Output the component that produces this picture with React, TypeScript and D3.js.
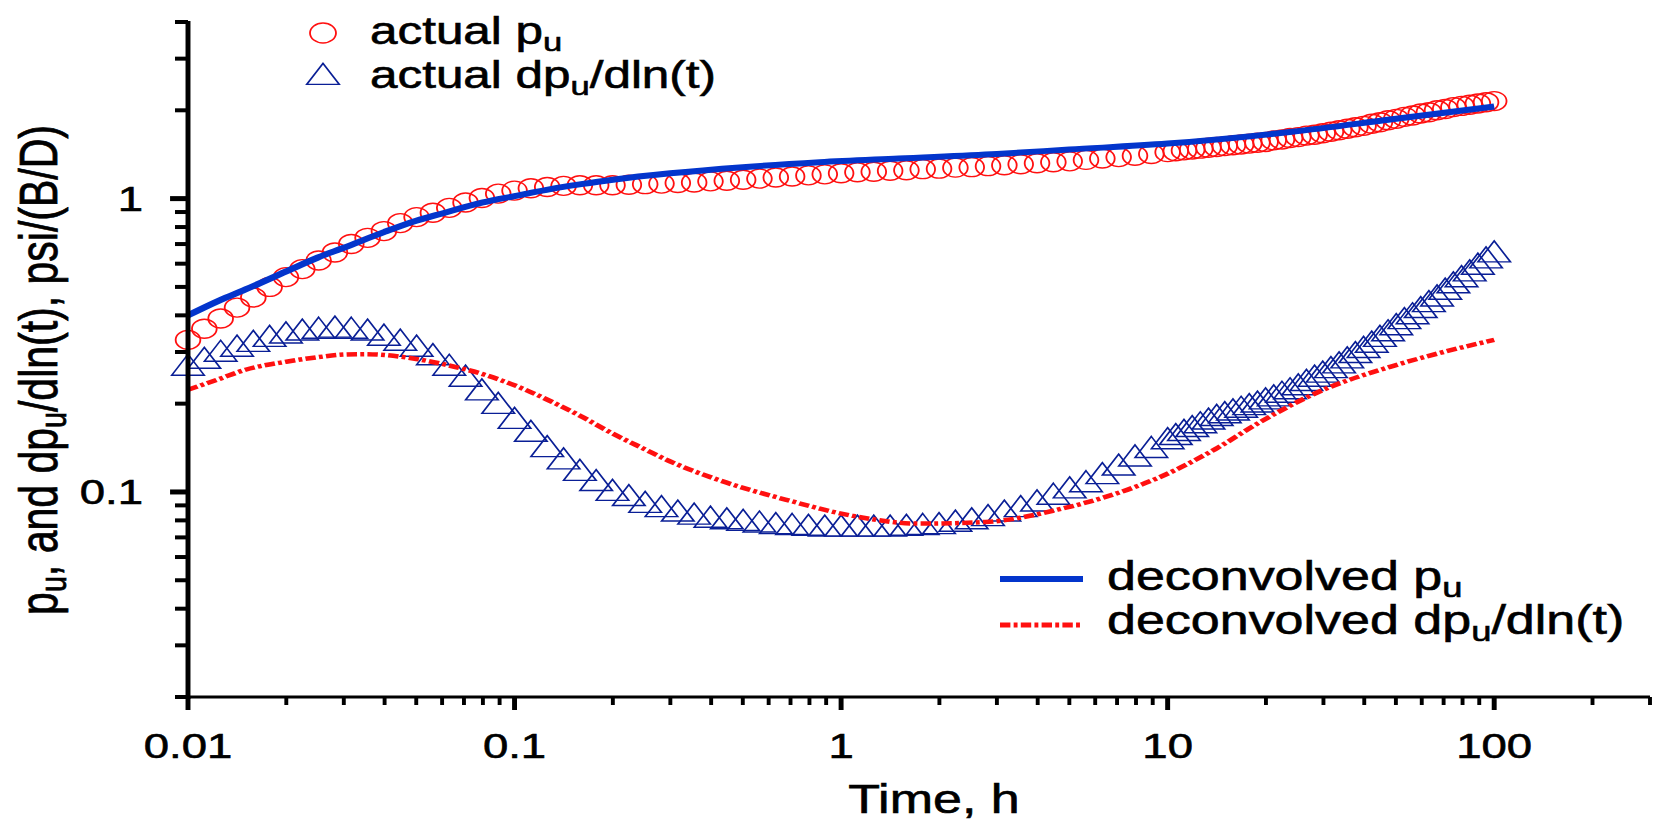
import React from 'react';
import * as d3 from 'd3';

// horizontal stretch of the original figure
const S = 1.3;
const W = 1653;
const H = 824;

// sample times, h (shared by both measured series)
const tActual = [
  0.01, 0.01122, 0.01259, 0.01413, 0.01585, 0.01778, 0.01995, 0.02239, 0.02512, 0.02818,
  0.03162, 0.03548, 0.03981, 0.04467, 0.05012, 0.05623, 0.0631, 0.07079, 0.07943, 0.08913,
  0.1, 0.1122, 0.1259, 0.1413, 0.1585, 0.1778, 0.1995, 0.2239, 0.2512, 0.2818,
  0.3162, 0.3548, 0.3981, 0.4467, 0.5012, 0.5623, 0.631, 0.7079, 0.7943, 0.8913,
  1, 1.122, 1.259, 1.413, 1.585, 1.778, 1.995, 2.239, 2.512, 2.818,
  3.162, 3.548, 3.981, 4.467, 5.012, 5.623, 6.31, 7.079, 7.943, 8.913,
  10, 10.59, 11.22, 11.89, 12.59, 13.34, 14.13, 14.96, 15.85, 16.79,
  17.78, 18.84, 19.95, 21.13, 22.39, 23.71, 25.12, 26.61, 28.18, 29.85,
  31.62, 33.5, 35.48, 37.58, 39.81, 42.17, 44.67, 47.32, 50.12, 53.09,
  56.23, 59.57, 63.1, 66.83, 70.79, 74.99, 79.43, 84.14, 89.13, 94.41, 100,
];

// actual p_u (circles)
const puActual = [
  0.33, 0.36, 0.39, 0.425, 0.46, 0.5, 0.54, 0.575, 0.615, 0.655,
  0.7, 0.735, 0.775, 0.825, 0.865, 0.895, 0.93, 0.97, 1.005, 1.04,
  1.065, 1.085, 1.095, 1.105, 1.11, 1.11, 1.11, 1.115, 1.12, 1.125,
  1.13, 1.135, 1.145, 1.15, 1.16, 1.17, 1.18, 1.19, 1.2, 1.21,
  1.22, 1.23, 1.235, 1.245, 1.25, 1.26, 1.265, 1.275, 1.28, 1.29,
  1.3, 1.31, 1.32, 1.33, 1.34, 1.355, 1.37, 1.385, 1.4, 1.42,
  1.44, 1.45, 1.46, 1.47, 1.48, 1.49, 1.5, 1.51, 1.52, 1.53,
  1.54, 1.55, 1.56, 1.58, 1.59, 1.61, 1.62, 1.64, 1.65, 1.67,
  1.69, 1.71, 1.73, 1.75, 1.77, 1.8, 1.82, 1.85, 1.87, 1.9,
  1.92, 1.95, 1.97, 2.0, 2.02, 2.05, 2.07, 2.09, 2.11, 2.13, 2.15,
];

// actual dp_u/dln(t) (triangles)
const dpuActual = [
  0.267, 0.282, 0.298, 0.31, 0.322, 0.335, 0.344, 0.352, 0.357, 0.36,
  0.357, 0.352, 0.338, 0.325, 0.31, 0.29, 0.267, 0.245, 0.22, 0.198,
  0.176, 0.159, 0.141, 0.128, 0.117, 0.108, 0.1, 0.096, 0.091, 0.088,
  0.085, 0.083, 0.081, 0.08, 0.079, 0.078, 0.077, 0.0765, 0.076, 0.0755,
  0.0755, 0.0755, 0.0755, 0.0755, 0.076, 0.0765, 0.077, 0.0785, 0.08, 0.082,
  0.085, 0.088, 0.092, 0.097, 0.102, 0.107, 0.114, 0.122, 0.131, 0.14,
  0.15, 0.155, 0.16, 0.165, 0.17, 0.175, 0.18, 0.184, 0.188, 0.192,
  0.196, 0.2, 0.205, 0.21, 0.216, 0.222, 0.229, 0.237, 0.245, 0.253,
  0.262, 0.272, 0.283, 0.295, 0.307, 0.32, 0.335, 0.35, 0.367, 0.385,
  0.4, 0.42, 0.44, 0.46, 0.485, 0.51, 0.535, 0.56, 0.59, 0.62, 0.65,
];

// deconvolved p_u (solid blue)
const tDeconvPu = [0.01, 0.0125, 0.015, 0.02, 0.025, 0.03, 0.04, 0.05, 0.06, 0.08, 0.1, 0.13, 0.16, 0.2, 0.3, 0.5, 0.86, 1.5, 3, 5, 10, 24, 48, 100];
const puDeconv = [0.4, 0.45, 0.49, 0.565, 0.63, 0.68, 0.77, 0.84, 0.89, 0.97, 1.02, 1.08, 1.12, 1.16, 1.22, 1.28, 1.33, 1.37, 1.42, 1.47, 1.54, 1.69, 1.86, 2.06];

// deconvolved dp_u/dln(t) (red dash-dot)
const tDeconvDpu = [0.01, 0.0125, 0.015, 0.02, 0.025, 0.03, 0.035, 0.04, 0.05, 0.062, 0.08, 0.1, 0.13, 0.16, 0.2, 0.25, 0.3, 0.42, 0.68, 1.08, 1.73, 2.77, 4.6, 7, 9.4, 14, 19, 30, 48, 70, 100];
const dpuDeconv = [0.223, 0.243, 0.261, 0.278, 0.288, 0.294, 0.295, 0.293, 0.284, 0.271, 0.252, 0.231, 0.203, 0.181, 0.158, 0.14, 0.127, 0.11, 0.094, 0.083, 0.078, 0.079, 0.087, 0.099, 0.112, 0.14, 0.172, 0.223, 0.267, 0.3, 0.33];

const xTickLabels = [0.01, 0.1, 1, 10, 100];
const yTickLabels = [0.1, 1];

const FONT = "'Liberation Sans', Arial, sans-serif";
const RED = '#ff1010';
const NAVY = '#0a1f96';
const BLUE = '#0335cc';

const x = d3.scaleLog().domain([0.01, 300]).range([188 / S, 1650 / S]);
const y = d3.scaleLog().domain([0.02, 4]).range([697, 22]);

const line = d3.line<[number, number]>()
  .x(d => x(d[0]))
  .y(d => y(d[1]))
  .curve(d3.curveMonotoneX);

const tri = (cx: number, cy: number) => {
  const h = 21, w = 25;
  return `M${cx},${cy - h * 0.6}L${cx + w / 2},${cy + h * 0.4}L${cx - w / 2},${cy + h * 0.4}Z`;
};

const Sub = ({ children }: { children: React.ReactNode }) => (
  <tspan fontSize="0.7em" dy={7}>{children}</tspan>
);

export default function App() {
  const isMajor = (v: number) => Math.abs(Math.log10(v) - Math.round(Math.log10(v))) < 1e-6;
  const xTicks = x.ticks();
  const yTicks = y.ticks();
  const x0 = x.range()[0];
  const x1 = x.range()[1];
  const yBottom = y.range()[0];
  const yTop = y.range()[1];

  const puLine = line(tDeconvPu.map((t, i) => [t, puDeconv[i]] as [number, number]));
  const dpuLine = line(tDeconvDpu.map((t, i) => [t, dpuDeconv[i]] as [number, number]));

  return (
    <svg width={W} height={H} style={{ position: 'absolute', left: 0, top: 0, background: '#fff' }}
      fontFamily={FONT}>
      <g transform={`scale(${S},1)`}>
        {/* measured p_u */}
        <g fill="none" stroke={RED} strokeWidth={1.4}>
          {tActual.map((t, i) => (
            <circle key={i} cx={x(t)} cy={y(puActual[i])} r={9.5} />
          ))}
        </g>
        {/* measured derivative */}
        <g fill="none" stroke={NAVY} strokeWidth={1.4}>
          {tActual.map((t, i) => (
            <path key={i} d={tri(x(t), y(dpuActual[i]))} />
          ))}
        </g>
        <path d={puLine || ''} fill="none" stroke={BLUE} strokeWidth={6} />
        <path d={dpuLine || ''} fill="none" stroke={RED} strokeWidth={4.5} strokeDasharray="8,2.5,3,2.5" />

        {/* axes */}
        <line x1={x0} x2={x0} y1={yTop - 1} y2={yBottom + 2} stroke="#000" strokeWidth={3.8} />
        <line x1={x0} x2={x1} y1={yBottom} y2={yBottom} stroke="#000" strokeWidth={3} />
        {yTicks.map((v, i) => {
          const m = isMajor(v);
          return (
            <line key={i} x1={x0 - (m ? 13.8 : 10)} x2={x0} y1={y(v)} y2={y(v)}
              stroke="#000" strokeWidth={m ? 5 : 4} />
          );
        })}
        {xTicks.map((v, i) => {
          const m = isMajor(v);
          return (
            <line key={i} x1={x(v)} x2={x(v)} y1={yBottom} y2={yBottom + (m ? 13 : 8)}
              stroke="#000" strokeWidth={m ? 3.8 : 3} />
          );
        })}
        <g fill="#000" stroke="#000" strokeWidth={0.6}>
          {yTickLabels.map(v => (
            <text key={v} x={110} y={y(v) + 12.5} fontSize={35} textAnchor="end">{v}</text>
          ))}
          {xTickLabels.map(v => (
            <text key={v} x={x(v)} y={758} fontSize={35} textAnchor="middle">{v}</text>
          ))}
          <text x={934 / S} y={813} fontSize={40} textAnchor="middle">Time, h</text>
          <text transform={`translate(44,370) rotate(-90)`} fontSize={41} textAnchor="middle">
            p<Sub>u</Sub><tspan dy={-7}>, and dp</tspan><Sub>u</Sub><tspan dy={-7}>/dln(t), psi/(B/D)</tspan>
          </text>

          {/* legend, top */}
          <text x={370 / S} y={44} fontSize={38}>actual p<Sub>u</Sub></text>
          <text x={370 / S} y={88} fontSize={38}>
            actual dp<Sub>u</Sub><tspan dy={-7}>/dln(t)</tspan>
          </text>

          {/* legend, bottom */}
          <text x={1107 / S} y={590} fontSize={40}>deconvolved p<Sub>u</Sub></text>
          <text x={1107 / S} y={634} fontSize={40}>
            deconvolved dp<Sub>u</Sub><tspan dy={-7}>/dln(t)</tspan>
          </text>
        </g>
        <circle cx={323 / S} cy={33} r={10} fill="none" stroke={RED} strokeWidth={1.4} />
        <path d={tri(323 / S, 76)} fill="none" stroke={NAVY} strokeWidth={1.4} />
        <line x1={1000 / S} x2={1083 / S} y1={579} y2={579} stroke={BLUE} strokeWidth={6} />
        <line x1={1000 / S} x2={1083 / S} y1={625} y2={625} stroke={RED} strokeWidth={5} strokeDasharray="8,2.5,3,2.5" />
      </g>
    </svg>
  );
}
